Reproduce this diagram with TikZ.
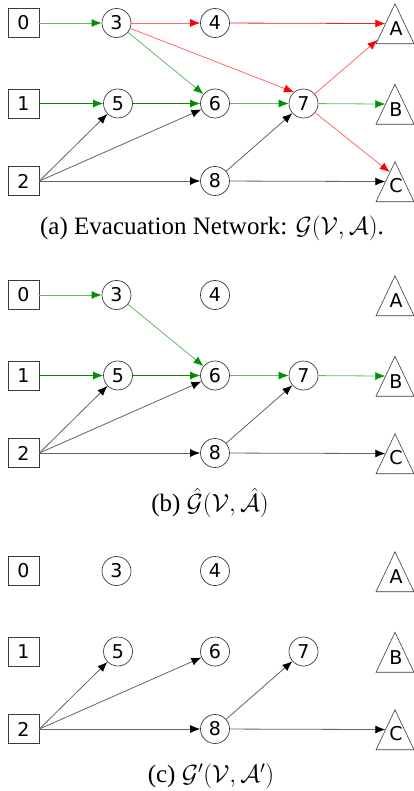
\documentclass[tikz,border=0pt]{standalone}
\usepackage{fontspec}
\setmainfont{Liberation Serif}
\newfontfamily\dv{DejaVu Sans}
\usetikzlibrary{arrows.meta,shapes.geometric,calc}
\definecolor{gdk}{RGB}{10,135,10}
\definecolor{glt}{RGB}{105,185,105}
\definecolor{gtip}{RGB}{0,145,0}
\definecolor{rdk}{RGB}{225,40,40}
\definecolor{rlt}{RGB}{255,105,105}
\definecolor{rtip}{RGB}{255,0,0}
\definecolor{kln}{RGB}{100,100,100}
\definecolor{nodeline}{RGB}{60,60,60}
\tikzset{
  lbl/.style={font=\dv\fontsize{19}{19}\selectfont},
  srcbox/.style={lbl,rectangle,draw=nodeline,line width=0.8pt,minimum width=31pt,minimum height=29pt,inner sep=0pt},
  midnode/.style={lbl,circle,draw=nodeline,line width=0.7pt,minimum size=29pt,inner sep=0pt},
  sinknode/.style={isosceles triangle,isosceles triangle stretches,shape border rotate=90,draw=nodeline,line width=0.6pt,minimum width=38pt,minimum height=40pt,inner sep=0pt,anchor=apex},
  sinklbl/.style={lbl,inner sep=0pt},
  edge/.style={line width=0.8pt},
  glight/.style={edge,draw=glt,-{Latex[length=10pt,width=8pt,color=gtip]}},
  gdark/.style={edge,draw=gdk,-{Latex[length=10pt,width=8pt,color=gtip]}},
  rlight/.style={edge,draw=rlt,-{Latex[length=10pt,width=8pt,color=rtip]}},
  rdark/.style={edge,draw=rdk,-{Latex[length=10pt,width=8pt,color=rtip]}},
  kedge/.style={edge,draw=kln,-{Latex[length=10pt,width=8pt,color=black]}},
  caption/.style={font=\fontsize{25}{28}\selectfont}
}
\newcommand\placenodes[2]{%
  \node[srcbox] (#1-0) at (23.5,#2+23) {0};
  \node[srcbox] (#1-1) at (23.5,#2+103.5) {1};
  \node[srcbox] (#1-2) at (23.5,#2+181) {2};
  \node[midnode] (#1-3) at (116.5,#2+23) {3};
  \node[midnode] (#1-4) at (215,#2+23) {4};
  \node[midnode] (#1-5) at (118,#2+103.5) {5};
  \node[midnode] (#1-6) at (215,#2+103.5) {6};
  \node[midnode] (#1-7) at (303.5,#2+103.5) {7};
  \node[midnode] (#1-8) at (215,#2+181) {8};
  \node[sinknode] (#1-A) at (395,#2+3) {};
  \node[sinknode] (#1-B) at (395,#2+83.5) {};
  \node[sinknode] (#1-C) at (395,#2+161) {};
  \node[sinklbl] (#1-Al) at (396,#2+29) {A};
  \node[sinklbl] (#1-Bl) at (396,#2+109.5) {B};
  \node[sinklbl] (#1-Cl) at (396,#2+186) {C};
  \draw[kedge] (#1-2.east) -- (#1-5);
  \draw[kedge] (#1-2.east) -- (#1-6);
  \draw[kedge] (#1-2.east) -- (#1-8);
  \draw[kedge] (#1-8) -- (#1-7);
  \draw[kedge] (#1-8) -- ($(#1-C.apex)!0.5!(#1-C.left corner)$);
}
\begin{document}
\begin{tikzpicture}[x=1pt,y=-1pt]
\useasboundingbox (0,0) rectangle (414,791);
% panel a
\placenodes{a}{0}
\draw[glight] (a-0) -- (a-3);
\draw[rlight] (a-3) -- (a-4);
\draw[rdark] (a-4) -- ($(a-A.apex)!0.5!(a-A.left corner)$);
\draw[rlight] (a-3) -- ($(a-7)!1!(a-7.130)$);
\draw[glight] (a-3) -- (a-6);
\draw[gdark] (a-1) -- (a-5);
\draw[gdark] (a-5) -- (a-6);
\draw[glight] (a-6) -- (a-7);
\draw[rlight] (a-7) -- ($(a-A.apex)!0.9!(a-A.left corner)$);
\draw[glight] (a-7) -- ($(a-B.apex)!0.5!(a-B.left corner)$);
\draw[rlight] (a-7) -- ($(a-C.apex)!0.27!(a-C.left corner)$);
\node[caption] (capa) at (212,228) {(a) Evacuation Network: $\mathcal{G}(\mathcal{V},\mathcal{A})$.};
% panel b
\placenodes{b}{272}
\draw[glight] (b-0) -- (b-3);
\draw[glight] (b-3) -- (b-6);
\draw[gdark] (b-1) -- (b-5);
\draw[gdark] (b-5) -- (b-6);
\draw[glight] (b-6) -- (b-7);
\draw[glight] (b-7) -- ($(b-B.apex)!0.5!(b-B.left corner)$);
\node[caption] (capb) at (210,503) {(b) $\hat{\mathcal{G}}(\mathcal{V},\hat{\mathcal{A}})$};
% panel c
\placenodes{c}{548}
\node[caption] (capc) at (211,776) {(c) $\mathcal{G}'(\mathcal{V},\mathcal{A}')$};
\end{tikzpicture}
\end{document}
